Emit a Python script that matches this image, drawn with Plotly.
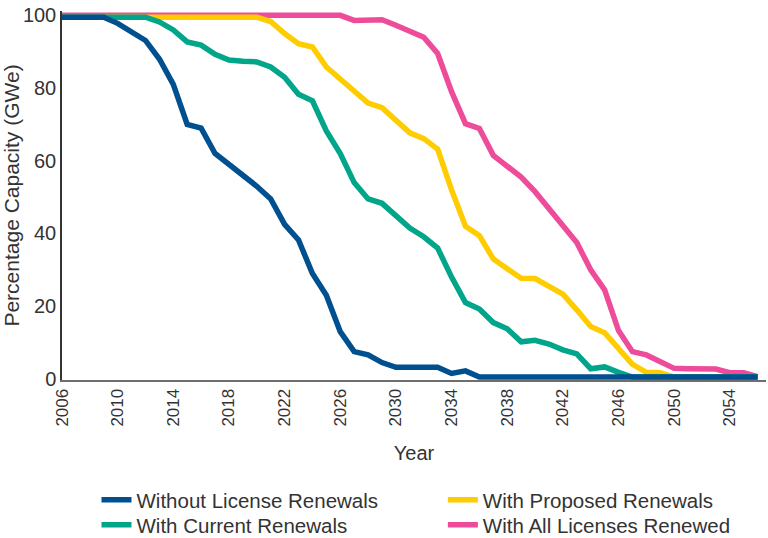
import plotly.graph_objects as go

years = list(range(2006, 2057))

without_renewals = [
    99.5, 99.5, 99.5, 99.5, 97.8, 95.3, 93.1, 88.0, 81.0, 70.0,
    69.0, 62.0, 59.0, 56.0, 53.0, 49.5, 42.5, 38.2, 29.0, 23.0,
    13.0, 7.5, 6.6, 4.5, 3.2, 3.2, 3.2, 3.2, 1.5, 2.2,
    0.5, 0.5, 0.5, 0.5, 0.5, 0.5, 0.5, 0.5, 0.5, 0.5,
    0.5, 0.5, 0.5, 0.5, 0.5, 0.5, 0.5, 0.5, 0.5, 0.5, 0.5,
]

current_renewals = [
    99.5, 99.5, 99.5, 99.5, 99.5, 99.5, 99.5, 98.2, 96.0, 92.7,
    91.8, 89.3, 87.7, 87.4, 87.2, 85.8, 83.0, 78.3, 76.5, 68.2,
    62.0, 54.0, 49.5, 48.3, 45.0, 41.5, 39.1, 36.0, 28.0, 21.0,
    19.2, 15.5, 13.8, 10.2, 10.6, 9.6, 8.0, 6.9, 2.8, 3.3,
    1.8, 0.5, 0.5, 0.5, 0.5, 0.5, 0.5, 0.5, 0.5, 0.5, 0.5,
]

proposed_renewals = [
    99.5, 99.5, 99.5, 99.5, 99.5, 99.5, 99.5, 99.5, 99.5, 99.5,
    99.5, 99.5, 99.5, 99.5, 99.5, 98.3, 95.0, 92.2, 91.3, 85.8,
    82.5, 79.0, 75.9, 74.6, 71.0, 67.7, 66.1, 63.2, 52.0, 42.0,
    39.4, 33.0, 30.3, 27.7, 27.6, 25.6, 23.3, 19.0, 14.4, 12.7,
    8.5, 4.0, 1.8, 1.7, 0.5, 0.5, 0.5, 0.5, 0.5, 0.5, 0.5,
]

all_renewed = [
    100, 100, 100, 100, 100, 100, 100, 100, 100, 100,
    100, 100, 100, 100, 100, 100, 100, 100, 100, 100,
    100, 98.6, 98.7, 98.8, 97.3, 95.5, 94.0, 89.5, 79.0, 70.2,
    68.9, 61.5, 58.5, 55.5, 51.5, 47.0, 42.3, 37.5, 30.0, 24.5,
    13.3, 7.5, 6.6, 4.6, 2.9, 2.8, 2.8, 2.7, 1.7, 1.7, 0.6,
]

series_names = [
    "Without License Renewals",
    "With Current Renewals",
    "With Proposed Renewals",
    "With All Licenses Renewed",
]
y_ticks = [0, 20, 40, 60, 80, 100]
x_ticks = list(range(2006, 2056, 4))

FONT = "Liberation Sans"
TXT = "#333333"
LEG_SIZE = 20.5

# drawn bottom-to-top: pink, yellow, teal, blue; each in its own legend box
traces = [
    (all_renewed, series_names[3], "#EE4C9A", "legend4"),
    (proposed_renewals, series_names[2], "#FFCC00", "legend3"),
    (current_renewals, series_names[1], "#00A58A", "legend2"),
    (without_renewals, series_names[0], "#00508F", "legend"),
]

fig = go.Figure()
for vals, name, color, leg in traces:
    fig.add_trace(go.Scatter(
        x=years, y=vals, mode="lines", name=name,
        line=dict(color=color, width=5.5),
        legend=leg,
    ))

col1_x, col2_x = 0.049, 0.541
row1_y, row2_y = -0.325, -0.393


def leg(x, y):
    return dict(
        x=x, y=y, xanchor="left", yanchor="middle",
        font=dict(family=FONT, size=LEG_SIZE, color=TXT),
        bgcolor="rgba(0,0,0,0)", itemwidth=30,
    )


fig.update_layout(
    width=768, height=538,
    margin=dict(l=62, r=2, t=11, b=158, autoexpand=False),
    paper_bgcolor="white", plot_bgcolor="white",
    font=dict(family=FONT, size=17, color=TXT),
    showlegend=True,
    legend=leg(col1_x, row1_y),
    legend2=leg(col1_x, row2_y),
    legend3=leg(col2_x, row1_y),
    legend4=leg(col2_x, row2_y),
)

fig.update_xaxes(
    range=[2006, 2056.6], tickvals=x_ticks, ticktext=[str(t) for t in x_ticks],
    tickangle=-90, showgrid=False, zeroline=False, automargin=False,
    showline=True, linecolor="#6e6e6e", linewidth=2, ticks="",
    tickfont=dict(family=FONT, size=17, color=TXT),
    title=dict(text="Year", font=dict(family=FONT, size=20, color=TXT), standoff=20),
)
fig.update_yaxes(
    range=[-0.3, 101.2], tickvals=y_ticks, showgrid=False, zeroline=False, automargin=False,
    showline=True, linecolor="#333333", linewidth=1.5, ticks="",
    tickfont=dict(family=FONT, size=20, color=TXT),
    title=dict(text="Percentage Capacity (GWe)", font=dict(family=FONT, size=21, color=TXT), standoff=8),
)

fig.write_html(
    "out.html",
    config={"displayModeBar": False},
    post_script="document.body.style.margin='0';document.body.style.overflow='hidden';",
)
